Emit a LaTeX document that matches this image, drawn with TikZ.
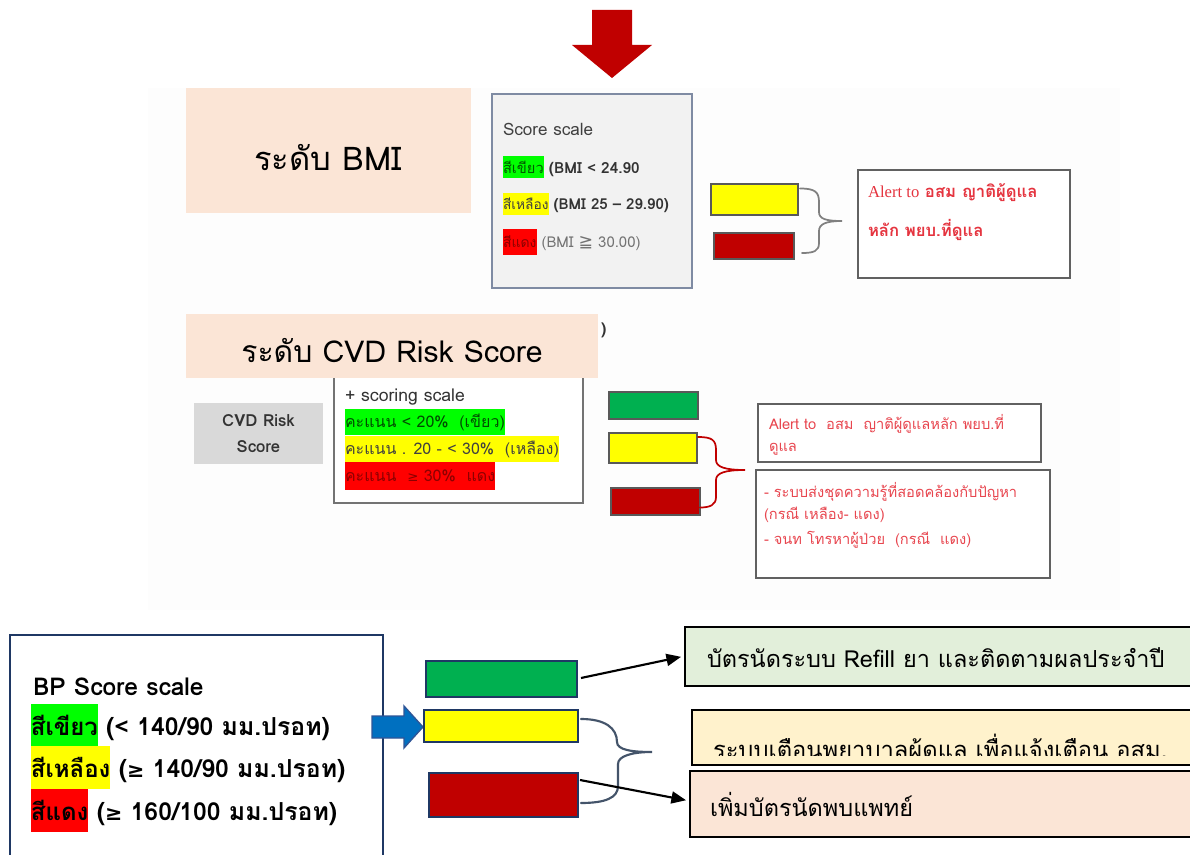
\documentclass[tikz,border=0pt]{standalone}
\usepackage{fontspec}
\usetikzlibrary{fit,calc,arrows.meta}
\newfontfamily\thai[Script=Thai]{Loma}
\newfontfamily\sym{DejaVu Sans}
\newfontfamily\serifalert{Liberation Serif}

\definecolor{peach}{HTML}{FBE5D6}
\definecolor{darkred}{HTML}{C00000}
\definecolor{hlgreen}{HTML}{00FF00}
\definecolor{hlyellow}{HTML}{FFFF00}
\definecolor{hlred}{HTML}{FF0000}
\definecolor{okgreen}{HTML}{00B050}
\definecolor{navy}{HTML}{1F3864}
\definecolor{alertred}{HTML}{E5343F}
\definecolor{alertred2}{HTML}{E8464F}
\definecolor{panelgrey}{HTML}{F2F2F2}
\definecolor{panelline}{HTML}{7F8BA3}
\definecolor{slate}{HTML}{44546A}
\definecolor{palegreen}{HTML}{E2EFDA}
\definecolor{cream}{HTML}{FFF2CC}
\definecolor{bpblue}{HTML}{0070C0}
\definecolor{bpblueline}{HTML}{2F5597}
\definecolor{cvdgrey}{HTML}{D9D9D9}

\newcommand\fs[1]{\fontsize{#1}{#1}\selectfont}

\begin{document}
\begin{tikzpicture}[x=0.75pt,y=-0.75pt,font=\thai,
  area/.style={rectangle,inner sep=0pt,outer sep=0pt},
  txt/.style={anchor=west,inner sep=0pt,outer sep=0pt},
  after/.style={anchor=base west,inner sep=0pt,outer sep=0pt},
  swatch/.style={area,draw=black!65,line width=1pt},
  bpswatch/.style={area,draw=navy,line width=2pt},
  alertbox/.style={area,draw=black!62,line width=1.3pt,fill=white},
  actionbox/.style={area,draw=black,line width=2pt},
  brace/.style={line width=1.3pt,line cap=round},
  pointer/.style={line width=1.6pt,-{Triangle[length=11pt,width=9pt]},shorten >=3pt}]

\useasboundingbox (0,0) rectangle (1190,855);
\fill[white] (0,0) rectangle (1190,855);

% faint backing panel of the upper part
\node[area,fit={(148,88)(1120,610)},fill=black!0.7] (panel) {};

% red down arrow at the top
\fill[darkred] (592,10) -- (632,10) -- (632,45) -- (652,45) -- (612,78)
  -- (572,45) -- (592,45) -- cycle;

% ---------------- BMI ----------------
\node[area,fit={(186,88)(471,213)},fill=peach] (bmiTitle) {};
\node[font=\thai\fs{24.5}] (bmiTitleText) at (328,158) {ระดับ BMI};

\node[area,fit={(492,94)(692,288)},fill=panelgrey,draw=panelline,line width=1.2pt] (bmiScale) {};
\node[txt,text=black!75,font=\thai\fs{12.8}] (bmiHead) at (503,129) {Score scale};
\node[txt,fill=hlgreen,minimum height=17pt,text=green!35!black,font=\thai\fs{11}] (bmiG) at (503,167) {สีเขียว};
\node[after,text=black!80,font=\thai\bfseries\fs{11.5}] (bmiGt) at (bmiG.base east) {\ (BMI < 24.90};
\node[txt,fill=hlyellow,minimum height=16.5pt,text=black!75,font=\thai\fs{10.3}] (bmiYl) at (503,204) {สีเหลือง};
\node[after,text=black!80,font=\thai\bfseries\fs{11.3}] (bmiYt) at (bmiYl.base east) {\ (BMI 25 – 29.90)};
\node[txt,fill=hlred,minimum height=19.5pt,text=red!55!black,font=\thai\fs{10.5}] (bmiRl) at (503,242) {สีแดง};
\node[after,text=black!55,font=\thai\fs{11.2}] (bmiRt) at (bmiRl.base east) {\ (BMI {\sym\fs{13}≧} 30.00)};

\node[swatch,fit={(711,184)(798,215)},fill=hlyellow] (bmiY) {};
\node[swatch,fit={(714,233)(794,259)},fill=darkred] (bmiR) {};

\node[alertbox,fit={(858,170)(1070,278)}] (bmiAlert) {};
\node[txt,text=alertred,font=\thai\bfseries\fs{12.5}] (bmiAlert1) at (868,193) {{\serifalert\mdseries Alert to} อสม ญาติผู้ดูแล};
\node[txt,text=alertred,font=\thai\bfseries\fs{12.5}] (bmiAlert2) at (868,230) {หลัก พยบ.ที่ดูแล};

\coordinate (bmiTip) at (842,221);
\draw[brace,draw=black!50] ($(bmiY.east)+(2,-11)$) .. controls +(15,0) and +(0,-10) .. (819,202)
  -- (819,212) .. controls +(0,7) and +(-16,0) .. (bmiTip)
  .. controls +(-16,0) and +(0,-7) .. (819,231)
  -- (819,243) .. controls +(0,8) and +(12,0) .. ($(bmiR.east)+(8,7)$);

% ---------------- CVD ----------------
\node[area,fit={(334,360)(583,503)},draw=black!55,line width=1.2pt,fill=white] (cvdScale) {};
\node[txt,font=\thai\bfseries\fs{12},text=black!80] (cvdParen) at (601,330) {)};
\node[area,fit={(186,314)(598,378)},fill=peach] (cvdTitle) {};
\node[font=\thai\fs{22.6}] (cvdTitleText) at (392,351) {ระดับ CVD Risk Score};

\node[area,fit={(194,403)(323,464)},fill=cvdgrey] (cvdLabel) {};
\node[align=center,text=black!80,font=\thai\bfseries\fontsize{12.5}{19.5}\selectfont] (cvdLabelText) at (cvdLabel.center) {CVD Risk\\Score};

\node[txt,text=black!80,font=\thai\fs{13.2}] (cvdHead) at (345,397) {+ scoring scale};
\node[txt,fill=hlgreen,minimum height=19.5pt,text=green!30!black,font=\thai\fs{12}] (cvdG) at (345,422) {คะแนน < 20\%~~(เขียว)};
\node[txt,fill=hlyellow,minimum height=19.5pt,text=black!75,font=\thai\fs{12}] (cvdYl) at (345,449) {คะแนน . 20 - < 30\%~~(เหลือง)};
\node[txt,fill=hlred,minimum height=21pt,text=red!55!black,font=\thai\fs{12}] (cvdRl) at (345,476) {คะแนน~~{\sym\fs{10}≥} 30\%~~แดง~};

\node[swatch,fit={(609,392)(698,419)},fill=okgreen] (cvdG2) {};
\node[swatch,fit={(609,433)(697,463)},fill=hlyellow] (cvdY) {};
\node[swatch,fit={(611,488)(700,515)},fill=darkred] (cvdR) {};

\node[alertbox,fit={(758,404)(1041,462)}] (cvdAlert) {};
\node[txt,text=alertred2,font=\thai\fs{11}] (cvdAlert1) at (769,424) {Alert to~~อสม~~ญาติผู้ดูแลหลัก พยบ.ที่};
\node[txt,text=alertred2,font=\thai\fs{11}] (cvdAlert2) at (769,449) {ดูแล};

\node[alertbox,fit={(756,470)(1050,578)}] (cvdAction) {};
\node[txt,text=alertred2,font=\thai\fs{11}] (cvdAction1) at (764,492) {- ระบบส่งชุดความรู้ที่สอดคล้องกับปัญหา};
\node[txt,text=alertred2,font=\thai\fs{11}] (cvdAction2) at (764,515) {(กรณี เหลือง- แดง)};
\node[txt,text=alertred2,font=\thai\fs{11}] (cvdAction3) at (764,540) {- จนท โทรหาผู้ป่วย~~(กรณี~~แดง)};

\coordinate (cvdTip) at (745,470);
\draw[brace,draw=darkred] ($(cvdY.east)+(1,-11)$) .. controls +(14,0) and +(0,-10) .. (716,450)
  -- (716,460) .. controls +(0,7) and +(-20,0) .. (cvdTip)
  .. controls +(-20,0) and +(0,-7) .. (716,480)
  -- (716,497) .. controls +(0,8) and +(10,0) .. ($(cvdR.east)+(0,6)$);

% ---------------- BP ----------------
\node[area,fit={(10,635)(383,880)},draw=navy,line width=2pt,fill=white] (bpScale) {};
\node[txt,font=\thai\bfseries\fs{18.4}] (bpHead) at (33,687) {BP Score scale};
\node[txt,fill=hlgreen,minimum height=31.5pt,font=\thai\bfseries\fs{18}] (bpGl) at (31,725) {สีเขียว};
\node[after,font=\thai\bfseries\fs{18.6}] (bpGt) at (bpGl.base east) {\ (< 140/90 มม.ปรอท)};
\node[txt,fill=hlyellow,minimum height=32pt,font=\thai\bfseries\fs{18}] (bpYl) at (31,767.5) {สีเหลือง};
\node[after,font=\thai\bfseries\fs{18.6}] (bpYt) at (bpYl.base east) {\ ({\sym\bfseries\fs{15.5}≥} 140/90 มม.ปรอท)};
\node[txt,fill=hlred,minimum height=32pt,font=\thai\bfseries\fs{18}] (bpRl) at (31,810.5) {สีแดง};
\node[after,font=\thai\bfseries\fs{18.6}] (bpRt) at (bpRl.base east) {\ ({\sym\bfseries\fs{15.5}≥} 160/100 มม.ปรอท)};

% blue block arrow into the yellow swatch
\filldraw[fill=bpblue,draw=bpblueline,line width=1pt] (372,716) -- (404,716) -- (404,706)
  -- (423,727) -- (404,748) -- (404,738) -- (372,738) -- cycle;

\node[bpswatch,fit={(426,661)(577,697)},fill=okgreen] (bpG) {};
\node[bpswatch,fit={(424,710)(578,742)},fill=hlyellow] (bpY) {};
\node[bpswatch,fit={(429,773)(578,817)},fill=darkred] (bpR) {};

\node[actionbox,fit={(685,627)(1200,686)},fill=palegreen] (bpRefill) {};
\node[txt,font=\thai\fs{17.6}] (bpRefillText) at (707,658) {บัตรนัดระบบ Refill ยา และติดตามผลประจำปี};

\node[actionbox,fit={(692,710)(1200,765)},fill=cream] (bpNotify) {};
\begin{scope}
  \clip (692,712) rectangle (1200,755);
  \node[txt,font=\thai\fs{17.8}] (bpNotifyText) at (713,749) {ระบบเตือนพยาบาลผู้ดูแล เพื่อแจ้งเตือน อสม.};
\end{scope}

\node[actionbox,fit={(690,771)(1200,837)},fill=peach] (bpDoctor) {};
\node[txt,font=\thai\fs{17.6}] (bpDoctorText) at (710,804) {เพิ่มบัตรนัดพบแพทย์};

\coordinate (bpTip) at (652,752);
\draw[brace,draw=slate,line width=1.6pt] ($(bpY.east)+(3,-7)$) .. controls +(24,0) and +(0,-14) .. (617,742)
  .. controls +(0,8) and +(-20,0) .. (bpTip)
  .. controls +(-20,0) and +(0,-8) .. (618,764)
  -- (618,786) .. controls +(0,12) and +(24,0) .. ($(bpR.east)+(3,8)$);

\draw[pointer] ($(bpG.east)+(4,-1)$) -- (bpRefill.west |- 0,656);
\draw[pointer] ($(bpR.east)+(2,-15)$) -- (bpDoctor.west |- 0,801);

\end{tikzpicture}
\end{document}
